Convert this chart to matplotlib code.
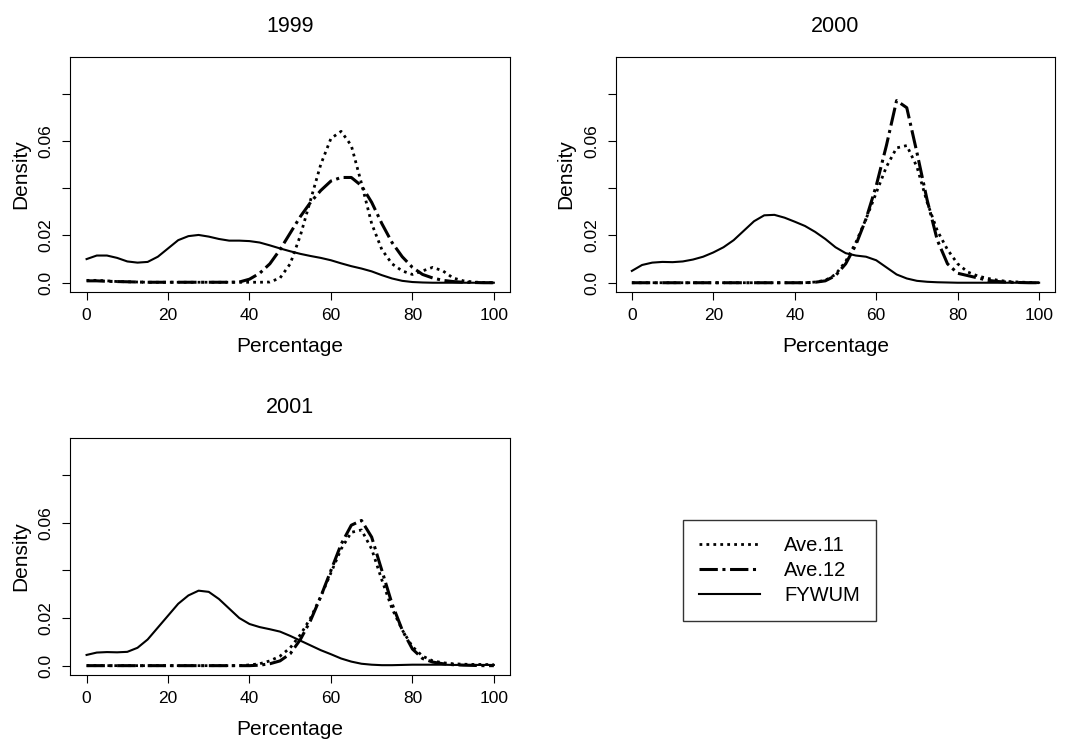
import numpy as np
import matplotlib
matplotlib.use("Agg")
import matplotlib.pyplot as plt

plt.rcParams['font.family'] = ['Liberation Sans', 'DejaVu Sans']

# x grid (percentage)
pct = np.arange(0, 100.01, 2.5)

# 1999
fy99 = [0.010, 0.0115, 0.0115, 0.0105, 0.009, 0.0085, 0.0088, 0.011, 0.0145, 0.018, 0.0197,
        0.0202, 0.0195, 0.0185, 0.0178, 0.0178, 0.0176, 0.017, 0.0158, 0.0145, 0.0133, 0.0122,
        0.0113, 0.0105, 0.0095, 0.0082, 0.007, 0.006, 0.0048, 0.0032, 0.0018, 0.0008, 0.0003,
        0.0001, 0, 0, 0, 0, 0, 0, 0]
a11_99 = [0.001, 0.001, 0.0008, 0.0005, 0.0004, 0.0003, 0.0002, 0.0002, 0.0002, 0.0002, 0.0002,
          0.0002, 0.0002, 0.0002, 0.0002, 0.0002, 0.0002, 0.0002, 0.0003, 0.002, 0.008, 0.02,
          0.035, 0.05, 0.061, 0.064, 0.058, 0.042, 0.025, 0.014, 0.008, 0.005, 0.0035, 0.005,
          0.0065, 0.005, 0.002, 0.0008, 0.0003, 0.0001, 0]
a12_99 = [0.0008, 0.0008, 0.0006, 0.0005, 0.0004, 0.0003, 0.0002, 0.0002, 0.0002, 0.0002, 0.0002,
          0.0002, 0.0002, 0.0002, 0.0002, 0.0003, 0.0015, 0.004, 0.008, 0.014, 0.021, 0.028,
          0.034, 0.039, 0.043, 0.0445, 0.0445, 0.041, 0.034, 0.025, 0.017, 0.011, 0.0065, 0.0035,
          0.002, 0.001, 0.0005, 0.0002, 0.0001, 0, 0]

# 2000
fy00 = [0.005, 0.0075, 0.0085, 0.0088, 0.0087, 0.009, 0.0098, 0.011, 0.0128, 0.015, 0.018,
        0.022, 0.026, 0.0285, 0.0287, 0.0275, 0.0258, 0.024, 0.0215, 0.0185, 0.015, 0.0125,
        0.0115, 0.011, 0.0095, 0.0065, 0.0035, 0.0018, 0.0008, 0.0004, 0.0002, 0.0001, 0,
        0, 0, 0, 0, 0, 0, 0, 0]
a11_00 = [0, 0, 0, 0, 0, 0, 0, 0, 0, 0, 0, 0, 0, 0, 0, 0, 0, 0, 0.0003, 0.001, 0.0035, 0.009,
          0.017, 0.027, 0.038, 0.049, 0.057, 0.058, 0.049, 0.034, 0.022, 0.014, 0.008, 0.0045,
          0.0028, 0.0018, 0.001, 0.0005, 0.0003, 0.0001, 0]
a12_00 = [0, 0, 0, 0, 0, 0, 0, 0, 0, 0, 0, 0, 0, 0, 0, 0, 0, 0, 0.0002, 0.0008, 0.003, 0.008,
          0.016, 0.027, 0.041, 0.058, 0.077, 0.074, 0.055, 0.035, 0.018, 0.008, 0.004, 0.003,
          0.002, 0.001, 0.0005, 0.0002, 0.0001, 0, 0]

# 2001
fy01 = [0.0045, 0.0055, 0.0057, 0.0056, 0.0058, 0.0075, 0.011, 0.016, 0.021, 0.026, 0.0295,
        0.0315, 0.031, 0.028, 0.024, 0.020, 0.0175, 0.0162, 0.0153, 0.0143, 0.0125, 0.0105,
        0.0085, 0.0065, 0.0048, 0.003, 0.0017, 0.0008, 0.0004, 0.0002, 0.0002, 0.0003, 0.0004,
        0.0004, 0.0004, 0.0004, 0.0003, 0.0003, 0.0003, 0.0003, 0.0003]
a11_01 = [0, 0, 0, 0, 0, 0, 0, 0, 0, 0, 0, 0, 0, 0, 0, 0, 0.0003, 0.0008, 0.002, 0.004, 0.0075,
          0.013, 0.02, 0.029, 0.039, 0.049, 0.056, 0.057, 0.049, 0.036, 0.024, 0.015, 0.008,
          0.004, 0.002, 0.0012, 0.0008, 0.0006, 0.0005, 0.0005, 0.0004]
a12_01 = [0, 0, 0, 0, 0, 0, 0, 0, 0, 0, 0, 0, 0, 0, 0, 0, 0, 0.0002, 0.0008, 0.002, 0.005,
          0.011, 0.019, 0.029, 0.04, 0.051, 0.059, 0.061, 0.054, 0.04, 0.026, 0.015, 0.007,
          0.003, 0.0015, 0.0008, 0.0004, 0.0002, 0.0001, 0, 0]

years = ['1999', '2000', '2001']
series = [(a11_99, a12_99, fy99), (a11_00, a12_00, fy00), (a11_01, a12_01, fy01)]
boxes = [[0.066, 0.610, 0.413, 0.314],
         [0.578, 0.610, 0.413, 0.314],
         [0.066, 0.098, 0.413, 0.316]]

dotted = (0, (1, 1.5))
dashdot = (0, (6, 1.5, 1, 1.5))

fig = plt.figure(figsize=(10.65, 7.48), dpi=100)
for yr, (s11, s12, sfy), box in zip(years, series, boxes):
    ax = fig.add_axes(box)
    l1, = ax.plot(pct, s11, color='black', lw=2, linestyle=dotted, label='Ave.11')
    l2, = ax.plot(pct, s12, color='black', lw=2.2, linestyle=dashdot, label='Ave.12')
    l3, = ax.plot(pct, sfy, color='black', lw=1.5, label='FYWUM')
    ax.set_xlim(-4, 104)
    ax.set_ylim(-0.0038, 0.0955)
    ax.set_xticks([0, 20, 40, 60, 80, 100])
    ax.set_yticks([0, 0.02, 0.04, 0.06, 0.08])
    ax.set_yticklabels(['0.0', '0.02', '', '0.06', ''], rotation=90, va='center')
    ax.tick_params(labelsize=12.5, length=6, pad=6)
    ax.set_title(yr, fontsize=15.5, pad=18)
    ax.set_xlabel('Percentage', fontsize=15, labelpad=10)
    ax.set_ylabel('Density', fontsize=15, labelpad=6)

fig.legend(handles=[l1, l2, l3], loc='center', bbox_to_anchor=(0.732, 0.737 - 0.5),
           fontsize=14.5, frameon=True, fancybox=False, edgecolor='black',
           handlelength=3, borderpad=0.8, labelspacing=0.3, handletextpad=1.2)

fig.savefig('out.png', dpi=100)
